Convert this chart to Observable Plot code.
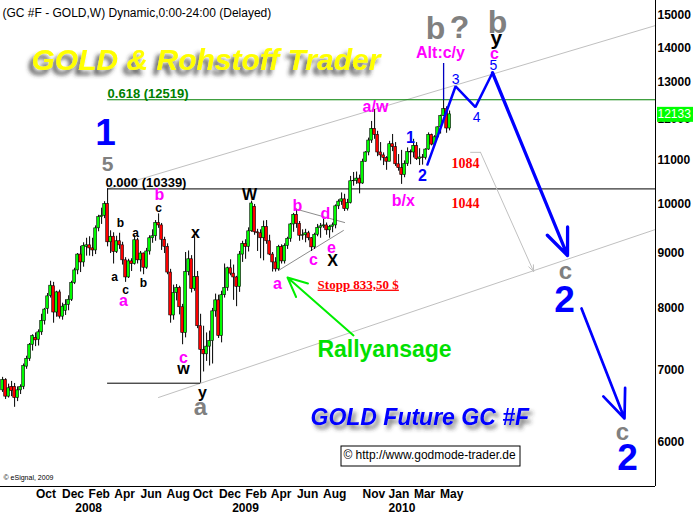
<!DOCTYPE html>
<html><head><meta charset="utf-8">
<script src="https://cdn.jsdelivr.net/npm/d3@7"></script>
<script src="https://cdn.jsdelivr.net/npm/@observablehq/plot@0.6"></script>
<style>
html,body{margin:0;padding:0;background:#fff;}
#chart{width:694px;height:518px;}
</style></head><body><div id="chart"></div>
<script>
// ---- weekly candles (GC #F, price x10), first week ending 2007-07-20 ----
const firstWeek = "2007-07-20";
const weekOpen = [6710,6860,6620,6760,6760,6600,6710,6760,7060,7180,
 7400,7510,7480,7600,7790,7990,8220,8390,7930,8280,
 7860,7960,8060,8150,8450,8680,8980,8830,9130,9160,
 9100,9060,9500,9730,9760,10010,9220,9330,9030,9240,
 9160,8870,8550,8850,8800,9260,8870,9000,8730,9040,
 9300,9340,9610,9560,9270,9130,8640,7880,8270,8360,
 8020,7590,8650,8890,8340,8560,7700,7320,7250,7370,
 7460,7950,8140,7540,8230,8360,8720,8620,8550,8380,
 8980,9190,9130,9440,9950,9420,9400,9300,9530,9240,
 8980,8830,8700,9130,8850,9150,9290,9580,9780,9590,
 9350,9360,9400,9300,9120,9370,9510,9540,9560,9460,
 9530,9560,9960,10060,10110,9900,10030,10510,10520,10570,
 10460,10960,11180,11470,11760,11610,11180,11110,11050,10960,
 11380,11310,10900,10810,10650,10910,11190,11180,11340,11020,
 11060,11050,11250,11610,11370,11550,11800,12090,12270,11770];
const weekHigh = [6900,6880,6800,6840,6810,6760,6790,7100,7220,7420,
 7560,7590,7640,7900,8000,8260,8480,8460,8300,8320,
 8090,8150,8220,8480,8720,9000,9140,9210,9300,9330,
 9300,9550,9770,9920,10060,10339,9450,9410,9340,9400,
 9220,8920,8890,8900,9350,9300,9040,9010,9100,9350,
 9470,9660,9800,9600,9320,9190,8700,8410,8420,8390,
 8070,9020,9050,8960,9330,8660,7900,7700,7590,7620,
 8000,8250,8230,8300,8800,8740,8880,8780,8570,9040,
 9240,9270,9510,10070,10000,9480,9470,9650,9660,9360,
 9020,8920,9160,9170,9190,9320,9600,9810,9900,9640,
 9470,9480,9440,9310,9400,9580,9600,9700,9610,9560,
 9610,9990,10100,10250,10220,10110,10620,10710,10720,10650,
 11020,11200,11530,11950,12260,11700,11420,11170,11080,11450,
 11620,11420,11130,11230,10980,11290,11240,11500,11420,11270,
 11130,11270,11660,11630,11590,11810,12110,12497,12330,12220];
const weekLow = [6680,6580,6600,6620,6470,6550,6650,6720,7020,7140,
 7300,7370,7380,7550,7720,7900,8180,7750,7850,7820,
 7800,7880,7960,8120,8420,8600,8640,8740,8950,8950,
 8940,8980,9430,9580,9700,9130,9000,8800,9000,9080,
 8780,8460,8530,8660,8780,8800,8650,8600,8700,8970,
 9200,9240,9500,9060,9000,8600,7750,7800,8130,7890,
 7400,7510,8580,8270,8300,7660,6814,6980,7140,7070,
 7100,7850,7500,7430,8180,8300,8580,8140,8030,8280,
 8830,8890,9030,9420,9360,9040,8900,8860,9180,8960,
 8650,8650,8670,8800,8800,9080,9220,9420,9500,9240,
 9260,9210,9250,9040,9080,9330,9300,9500,9360,9300,
 9410,9490,9890,9980,9850,9860,10010,10400,10440,10230,
 10440,10950,11100,11400,11500,11080,10980,10870,10760,10960,
 11200,10850,10740,10440,10590,10850,10890,11050,10990,10870,
 10880,11000,11230,11340,11320,11520,11630,12080,11650,11710];
const weekClose = [6860,6620,6740,6700,6600,6710,6760,7070,7180,7400,
 7540,7470,7600,7790,7980,8210,8400,7930,8280,7860,
 8030,8060,8150,8450,8680,8980,8830,9150,9160,9100,
 9060,9500,9730,9760,10010,9220,9330,9030,9240,9160,
 8870,8550,8850,8800,9260,8870,9000,8730,9040,9300,
 9340,9610,9560,9270,9130,8640,7880,8270,8360,8020,
 7590,8650,8890,8340,8560,7700,7320,7250,7370,7460,
 7950,8140,7540,8230,8360,8720,8620,8550,8380,8980,
 9190,9130,9440,10020,9420,9400,9300,9530,9240,8980,
 8830,8700,9130,8850,9150,9290,9580,9780,9590,9350,
 9360,9400,9300,9120,9370,9510,9540,9560,9460,9530,
 9560,9960,10060,10110,9900,10030,10510,10520,10570,10460,
 10960,11180,11470,11760,11610,11180,11110,11050,10960,11380,
 11310,10900,10810,10650,10910,11190,11180,11340,11020,11060,
 11050,11250,11610,11370,11550,11800,12090,12270,11770,12133];
const lastPrice = 12133;

// ---- axes ----
const priceTicks = [6000,7000,8000,9000,10000,11000,12000,13000,14000,15000];
const monthTicks = [["2007-10-01","Oct"],["2007-12-01","Dec"],["2008-02-01","Feb"],["2008-04-01","Apr"],
 ["2008-06-01","Jun"],["2008-08-01","Aug"],["2008-10-01","Oct"],["2008-12-01","Dec"],["2009-02-01","Feb"],
 ["2009-04-01","Apr"],["2009-06-01","Jun"],["2009-08-01","Aug"],["2009-11-01","Nov"],["2010-01-01","Jan"],
 ["2010-03-01","Mar"],["2010-05-01","May"]];
const yearTicks = [["2008-01-01","2008"],["2009-01-01","2009"],["2010-01-01","2010"]];
const weekDomain = [-0.7, 217.63];
const priceDomain = [5459, 15491];

// ---- levels and drawn lines: [week, price] ----
const fibHigh = 12519, fibZero = 10339, lowLevel = 6814;
const fibStartWeek = 35, lowStartWeek = 35, lowEndWeek = 66;
const channelUpper = [[35, 10339], [217.63, 14681]];
const channelLower = [[51.97, 6608], [217.63, 9477]];
const triangleUpper = [[98.3, 9892], [114, 9619]];
const triangleLower = [[91.97, 8679], [113.6, 9456]];
const grayPathFlat = [[156, 11183], [159.3, 11183]];
const grayArrow = [159.3, 11183, 177, 8660];
const wavePath = [[141.6, 10893], [151, 12886], [157.6, 12322], [163.3, 13266]];
const waveArrow1 = [163.3, 13266, 188.3, 8962];
const waveArrow2 = [192.97, 7999, 207.3, 6317];
const rallyArrow = [116.97, 7549, 94.97, 8549];
const markerLine = [147, 12497, 13532];

// ---- labels: [text, week, price] ----
const blueBig = [["1", 34.3, 11642], ["2", 187.3, 8137], ["2", 208.3, 5797]];
const blueMid = [["1", 135.97, 11542], ["2", 139.97, 10642]];
const blueSmall = [["3", 150.97, 13067], ["4", 157.97, 12060], ["5", 163.6, 13472]];
const grayMid = [["5", 34.97, 10893]];
const grayLarge = [["a", 65.97, 6468], ["c", 187.6, 8660], ["c", 206.6, 6130]];
const grayHuge = [["b", 144.3, 14587], ["?", 152.3, 14618], ["b", 164.97, 14778]];
const blackMid = [["x", 64.3, 9416], ["w", 60.3, 7033], ["y", 66.6, 6680], ["W", 82.3, 10218], ["X", 109.97, 8867]];
const blackY = [["y", 164.6, 14278]];
const blackSmall = [["c", 51.97, 9912], ["b", 39.3, 9599], ["a", 44.3, 9395], ["a", 37.3, 8549], ["c", 40.97, 8314], ["b", 46.97, 8440]];
const magentaLabels = [["b", 52.3, 10199], ["a", 40.3, 8137], ["c", 60.3, 7201], ["b", 98.3, 9972], ["d", 107.6, 9809],
 ["e", 109.6, 9118], ["c", 103.6, 8886], ["a", 91.6, 8440], ["a/w", 124.3, 12322], ["b/x", 133.6, 10086],
 ["Alt:c/y", 145.97, 13855], ["c", 163.97, 13822]];
const redLevels = [["1084", 154.3, 10927], ["1044", 154.3, 10024]];
const stoppLabel = [["Stopp 833,50 $", 105, 8422]];
const rallyLabel = [["Rallyansage", 127.3, 7325]];
const brandText = "GOLD & Rohstoff Trader";
const futureText = "GOLD Future GC #F";
const copyrightText = "\u00a9 http://www.godmode-trader.de";

// ---- helpers ----
const DAY = 86400000;
const t0 = Date.parse(firstWeek + "T00:00:00Z");
const toDate = w => new Date(t0 + w * 7 * DAY);
const candles = weekOpen.map((o, i) => ({date: toDate(i), open: o, high: weekHigh[i], low: weekLow[i], close: weekClose[i]}));
const up = candles.filter(d => d.close >= d.open);
const down = candles.filter(d => d.close < d.open);
const SANS = "'Liberation Sans', Arial, Helvetica, sans-serif";
const SERIF = "'Liberation Serif', 'Times New Roman', serif";

function seg(pts, opts) {
  return Plot.line(pts, {x: d => toDate(d[0]), y: d => d[1], ...opts});
}
function arrow(a, opts) {
  return Plot.arrow([a], {x1: d => toDate(d[0]), y1: d => d[1], x2: d => toDate(d[2]), y2: d => d[3], ...opts});
}
function labels(arr, opts) {
  return Plot.text(arr, {x: d => toDate(d[1]), y: d => d[2], text: d => d[0], fontFamily: SANS, ...opts});
}

const chart = Plot.plot({
  width: 694, height: 518,
  marginLeft: 0, marginRight: 39, marginTop: 0, marginBottom: 32,
  x: {type: "utc", domain: weekDomain.map(toDate), axis: null},
  y: {type: "log", domain: priceDomain, axis: null},
  style: {fontFamily: SANS, background: "white", color: "black"},
  marks: [
    seg(channelUpper, {stroke: "#c0c0c0", strokeWidth: 1}),
    seg(channelLower, {stroke: "#c0c0c0", strokeWidth: 1}),
    Plot.ruleY([fibHigh], {x1: toDate(fibStartWeek), x2: toDate(weekDomain[1]), stroke: "#008000", strokeWidth: 1}),
    Plot.ruleY([fibZero], {x1: toDate(fibStartWeek), x2: toDate(weekDomain[1]), stroke: "black", strokeWidth: 1}),
    Plot.ruleY([lowLevel], {x1: toDate(lowStartWeek), x2: toDate(lowEndWeek), stroke: "black", strokeWidth: 1}),
    seg(triangleUpper, {stroke: "#8c8c8c", strokeWidth: 1}),
    seg(triangleLower, {stroke: "#8c8c8c", strokeWidth: 1}),
    seg(grayPathFlat, {stroke: "#c0c0c0", strokeWidth: 1}),
    arrow(grayArrow, {stroke: "#c0c0c0", strokeWidth: 1, headLength: 10, headAngle: 45}),
    Plot.ruleX(candles, {x: "date", y1: "low", y2: "high", stroke: "black", strokeWidth: 1}),
    Plot.rect(up, {x1: d => new Date(+d.date - 3.2 * DAY), x2: d => new Date(+d.date + 3.2 * DAY), y1: "open", y2: "close", fill: "#00ff00", stroke: "black", strokeWidth: 0.6}),
    Plot.rect(down, {x1: d => new Date(+d.date - 3.2 * DAY), x2: d => new Date(+d.date + 3.2 * DAY), y1: "open", y2: "close", fill: "#ff0000", stroke: "black", strokeWidth: 0.6}),
    Plot.ruleX([markerLine], {x: d => toDate(d[0]), y1: d => d[1], y2: d => d[2], stroke: "#0000c0", strokeWidth: 1.3}),
    seg(wavePath, {stroke: "#0000ff", strokeWidth: 2.5, strokeLinejoin: "miter"}),
    arrow(waveArrow1, {stroke: "#0000ff", strokeWidth: 3.3, headLength: 13, headAngle: 45}),
    arrow(waveArrow2, {stroke: "#0000ff", strokeWidth: 2.7, headLength: 17, headAngle: 45}),
    arrow(rallyArrow, {stroke: "#00ee00", strokeWidth: 2, headLength: 16, headAngle: 50}),
    Plot.ruleX([toDate(weekDomain[1])], {stroke: "black", strokeWidth: 1}),
    Plot.ruleY([priceDomain[0]], {stroke: "black", strokeWidth: 1}),
    Plot.text([fibHigh], {x: toDate(fibStartWeek), y: d => d, text: d => `0.618 (${d})`, textAnchor: "start", lineAnchor: "bottom", dy: -2, fill: "#008000", fontWeight: "bold", fontSize: 13}),
    Plot.text([fibZero], {x: toDate(34.3), y: d => d, text: d => `0.000 (${d})`, textAnchor: "start", lineAnchor: "bottom", dy: -2, fill: "black", fontWeight: "bold", fontSize: 13}),
    labels(blueBig, {fill: "#0000ff", fontSize: 37, fontWeight: "bold"}),
    labels(blueMid, {fill: "#0000ff", fontSize: 16, fontWeight: "bold"}),
    labels(blueSmall, {fill: "#0000ff", fontSize: 14}),
    labels(grayMid, {fill: "#808080", fontSize: 21, fontWeight: "bold"}),
    labels(grayLarge, {fill: "#808080", fontSize: 24, fontWeight: "bold"}),
    labels(grayHuge, {fill: "#808080", fontSize: 32, fontWeight: "bold"}),
    labels(blackMid, {fill: "black", fontSize: 16, fontWeight: "bold"}),
    labels(blackY, {fill: "black", fontSize: 21, fontWeight: "bold"}),
    labels(blackSmall, {fill: "black", fontSize: 12, fontWeight: "bold"}),
    labels(magentaLabels, {fill: "#ff00ff", fontSize: 16, fontWeight: "bold"}),
    labels(redLevels, {fill: "#ff0000", fontSize: 14, fontWeight: "bold", fontFamily: SERIF}),
    labels(stoppLabel, {fill: "#ff0000", fontSize: 13, fontWeight: "bold", fontFamily: SERIF, textAnchor: "start"}),
    labels(rallyLabel, {fill: "#00e000", fontSize: 23, fontWeight: "bold"}),
    Plot.text(priceTicks, {y: d => d, frameAnchor: "right", dx: 2, textAnchor: "start", text: d => String(d), fontWeight: "bold", fontSize: 12, fill: "black"}),
    Plot.text([lastPrice], {y: d => d, frameAnchor: "right", dx: 2, textAnchor: "start", text: d => String(d), fontSize: 12, fill: "white"}),
    Plot.text(monthTicks, {x: d => new Date(d[0]), frameAnchor: "bottom", dy: 11, dx: 2, textAnchor: "start", text: d => d[1], fontWeight: "bold", fontSize: 12, fill: "black"}),
    Plot.text(yearTicks, {x: d => new Date(d[0]), frameAnchor: "bottom", dy: 25, dx: 2, textAnchor: "start", text: d => d[1], fontWeight: "bold", fontSize: 12, fill: "black"}),
    Plot.text(["(GC #F - GOLD,W) Dynamic,0:00-24:00 (Delayed)"], {frameAnchor: "top-left", dx: 2, dy: 8, textAnchor: "start", fontSize: 12, fill: "black"}),
    Plot.text([brandText], {frameAnchor: "top-left", dx: 31, dy: 48, textAnchor: "start", fontSize: 30, fontWeight: "bold", fontStyle: "italic", fill: "#ffff00"}),
    Plot.text([futureText], {frameAnchor: "top-left", dx: 310, dy: 408, textAnchor: "start", fontSize: 23, fontWeight: "bold", fontStyle: "italic", fill: "#0000ff"}),
    Plot.text([copyrightText], {frameAnchor: "top-left", dx: 429, dy: 450, textAnchor: "middle", fontSize: 12, fill: "black"}),
    Plot.text(["\u00a9 eSignal, 2009"], {frameAnchor: "bottom-left", dx: 3, dy: -7, textAnchor: "start", fontSize: 7, fill: "black"})
  ]
});

document.getElementById("chart").append(chart);

// ---- decoration: shadows, underline, boxes ----
const SVGNS = "http://www.w3.org/2000/svg";
const defs = d3.select(chart).insert("defs", ":first-child");
defs.append("filter").attr("id", "shadowL").attr("x", "-10%").attr("y", "-40%").attr("width", "125%").attr("height", "190%")
  .append("feDropShadow").attr("dx", -4).attr("dy", 5).attr("stdDeviation", 2.2).attr("flood-color", "#303030").attr("flood-opacity", 0.8);
defs.append("filter").attr("id", "shadowR").attr("x", "-10%").attr("y", "-40%").attr("width", "125%").attr("height", "190%")
  .append("feDropShadow").attr("dx", 3).attr("dy", 4).attr("stdDeviation", 2).attr("flood-color", "#303030").attr("flood-opacity", 0.7);

const findText = str => Array.from(chart.querySelectorAll("text")).filter(t => t.textContent === str);
findText(brandText).forEach(t => t.setAttribute("filter", "url(#shadowL)"));
findText(futureText).forEach(t => t.setAttribute("filter", "url(#shadowR)"));
findText(stoppLabel[0][0]).forEach(t => t.style.textDecoration = "underline");

function boxBehind(str, fill, stroke, padX, padY) {
  findText(str).forEach(t => {
    const bb = t.getBBox();
    const g = t.parentNode;
    const holder = document.createElementNS(SVGNS, "g");
    const gtr = g.getAttribute("transform");
    if (gtr) holder.setAttribute("transform", gtr);
    const r = document.createElementNS(SVGNS, "rect");
    r.setAttribute("x", Math.round(bb.x - padX) + 0.5);
    r.setAttribute("y", Math.round(bb.y - padY) + 0.5);
    r.setAttribute("width", Math.round(bb.width + 2 * padX));
    r.setAttribute("height", Math.round(bb.height + 2 * padY));
    r.setAttribute("fill", fill);
    r.setAttribute("stroke", stroke || "none");
    r.setAttribute("stroke-width", 1);
    const tr = t.getAttribute("transform");
    if (tr) r.setAttribute("transform", tr);
    holder.appendChild(r);
    g.parentNode.insertBefore(holder, g);
  });
}
boxBehind(copyrightText, "white", "black", 3, 3);
boxBehind(String(lastPrice), "#00ff00", null, 1, 0.5);
</script>
</body></html>
